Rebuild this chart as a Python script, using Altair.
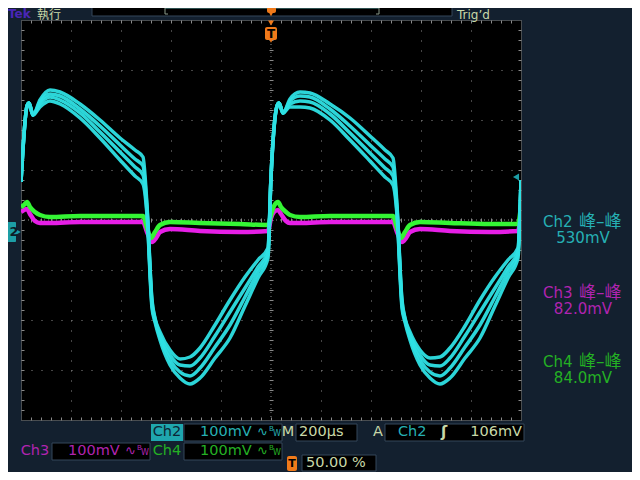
import altair as alt
import pandas as pd

# ---------------- data (time in µs from trigger, screen voltage in mV, 100 mV/div) -------------
T_CH2 = [-1000, -976, -968, -952, -924, -884, -844, -764, -684, -604, -544, -512, -496, -476, -464,
         -444, -404, -364, -324, -284, -224, -164, -104, -52, -12,
         0, 24, 32, 48, 76, 116, 156, 236, 316, 396, 456, 488, 504, 524, 536,
         556, 596, 636, 676, 716, 776, 836, 896, 948, 988, 1000]
CH2_A = [76, 228, 234, 210, 240, 260, 256, 232, 200, 164, 140, 126, 30, -160, -196,
         -224, -260, -278, -274, -256, -210, -160, -114, -80, -56,
         86, 228, 234, 214, 242, 256, 254, 232, 204, 168, 140, 124, 30, -160, -196,
         -224, -260, -276, -274, -256, -212, -160, -114, -80, -56, 80]
CH2_B = [76, 228, 234, 210, 236, 252, 248, 222, 188, 150, 122, 108, 24, -164, -198,
         -230, -270, -290, -292, -276, -232, -184, -136, -94, -62,
         86, 228, 234, 214, 238, 248, 246, 222, 188, 150, 122, 106, 24, -164, -198,
         -230, -270, -290, -292, -276, -232, -184, -136, -94, -62, 80]
CH2_C = [76, 228, 234, 210, 232, 246, 240, 214, 176, 136, 106, 90, 16, -170, -200,
         -234, -280, -304, -312, -296, -254, -210, -154, -104, -68,
         86, 228, 234, 214, 232, 238, 236, 212, 174, 134, 104, 88, 16, -170, -200,
         -234, -280, -304, -312, -296, -254, -210, -154, -104, -68, 80]
CH2_D = [76, 228, 234, 210, 226, 238, 232, 204, 164, 120, 88, 72, 10, -176, -204,
         -240, -290, -316, -328, -316, -276, -236, -172, -116, -76,
         86, 228, 234, 214, 226, 226, 224, 200, 160, 118, 86, 70, 10, -176, -204,
         -240, -290, -316, -328, -316, -276, -236, -172, -116, -76, 80]

T_CH4 = [-1000, -988, -976, -964, -944, -924, -884, -764, -604, -512, -496, -480, -464, -444, -404,
         -284, -124, -12, 0, 12, 28, 40, 60, 76, 116, 236, 396, 488, 504, 520, 536, 556, 596,
         716, 876, 988, 1000]
V_CH4 = [26, 30, 36, 26, 16, 10, 6, 8, 8, 8, -16, -36, -24, -10, -4,
         -6, -8, -10, 10, 28, 36, 26, 16, 10, 6, 8, 8, 8, -16, -36, -24, -10, -4,
         -6, -8, -8, 30]

T_CH3 = [-1000, -988, -976, -964, -944, -924, -884, -764, -604, -512, -496, -476, -460, -444, -404,
         -284, -124, -12, 0, 12, 28, 40, 60, 76, 116, 236, 396, 488, 504, 524, 540, 556, 596,
         716, 876, 988, 1000]
V_CH3 = [16, 20, 22, 12, -2, -6, -6, -4, -4, -4, -24, -44, -36, -24, -18,
         -22, -24, -22, 4, 16, 20, 12, -2, -6, -6, -4, -4, -4, -24, -44, -36, -24, -18,
         -22, -24, -22, 16]

CHANNELS = ["Ch2", "Ch3", "Ch4"]
PK_PK = ["530mV", "82.0mV", "84.0mV"]
VOLTS_DIV = ["100mV", "100mV", "100mV"]
TIMEBASE = "200µs"
TRIG_SRC = "Ch2"
TRIG_LEVEL = "106mV"
TRIG_POS = "50.00 %"
PKPK_WORD = "峰–峰"

for arr in (CH2_A, CH2_B, CH2_C, CH2_D):
    assert len(arr) == len(T_CH2)
assert len(V_CH4) == len(T_CH4) and len(V_CH3) == len(T_CH3)

rows = []
for name, vals in [("D", CH2_D), ("C", CH2_C), ("B", CH2_B), ("A", CH2_A)]:
    for t, v in zip(T_CH2, vals):
        rows.append({"t": t, "mV": v, "trace": name})
df2 = pd.DataFrame(rows)
df3 = pd.DataFrame({"t": T_CH3, "mV": V_CH3})
df4 = pd.DataFrame({"t": T_CH4, "mV": V_CH4})

# ---------------- styles -------------
FONT = "DejaVu Sans, Noto Sans CJK TC"
BG = "#13202f"
EDGE = "#34465a"
BEIGE = "#c8d8a8"
TEAL = "#26b0b4"
MAG = "#b024b0"
GRN = "#24b024"
ORANGE = "#f07a1a"
GRIDC = "#8a8a8a"
CYAN = "#2ee0e4"

XS = alt.Scale(domain=[-1000, 1000], nice=False, zero=False)
YS = alt.Scale(domain=[-400, 400], nice=False, zero=False)
MAJ_X = [-800, -600, -400, -200, 200, 400, 600, 800]
MAJ_Y = [-300, -200, -100, 100, 200, 300]
MIN_X = list(range(-960, 1000, 40))
MIN_Y = list(range(-380, 400, 20))


def grid_axis(orient, values):
    return alt.Axis(orient=orient, values=values, labels=False, domain=False, title=None,
                    ticks=False, grid=True, gridColor=GRIDC, gridDash=[1, 9], gridOpacity=1,
                    gridWidth=1)


def tick_axis(orient, values, offset, size):
    return alt.Axis(orient=orient, values=values, labels=False, domain=False, title=None,
                    grid=False, ticks=True, tickSize=size, tickColor=GRIDC, tickWidth=1,
                    offset=offset)


BLANK = alt.Data(values=[{}])


def rect(x0, x1, y0, y1, fill, stroke=None, radius=0):
    kw = {"fill": fill}
    if stroke:
        kw["stroke"] = stroke
        kw["strokeWidth"] = 1
    if radius:
        kw["cornerRadius"] = radius
    return alt.Chart(BLANK).mark_rect(**kw).encode(
        x=alt.value(x0), x2=alt.value(x1), y=alt.value(y0), y2=alt.value(y1))


def txt(x, y, s, color, size=14, align="left", bold=False, baseline="middle"):
    kw = dict(align=align, baseline=baseline, fontSize=size, color=color, font=FONT)
    if bold:
        kw["fontWeight"] = "bold"
    return alt.Chart(BLANK).mark_text(**kw).encode(
        x=alt.value(x), y=alt.value(y), text=alt.value(s))


def tri(x, y, shape, color, size):
    return alt.Chart(BLANK).mark_point(shape=shape, filled=True, color=color, size=size,
                                       opacity=1).encode(x=alt.value(x), y=alt.value(y))


def hline(x0, x1, y, color):
    return alt.Chart(BLANK).mark_rule(color=color, strokeWidth=1).encode(
        x=alt.value(x0), x2=alt.value(x1), y=alt.value(y))


def vline(x, y0, y1, color):
    return alt.Chart(BLANK).mark_rule(color=color, strokeWidth=1).encode(
        x=alt.value(x), y=alt.value(y0), y2=alt.value(y1))


def bw(x, y, color):
    return [txt(x, y, "∿", color, 13), txt(x + 12, y - 3, "B", color, 7),
            txt(x + 16, y + 2, "W", color, 8)]


# ---------------- traces & graticule -------------
ch3 = alt.Chart(df3).mark_line(color="#e61ee6", strokeWidth=4.5, clip=True,
                               interpolate="monotone").encode(
    x=alt.X("t:Q", scale=XS, axis=grid_axis("bottom", MAJ_X)),
    y=alt.Y("mV:Q", scale=YS, axis=grid_axis("left", MAJ_Y)))

ch4 = alt.Chart(df4).mark_line(color="#34f534", strokeWidth=4.5, clip=True,
                               interpolate="monotone").encode(
    x=alt.X("t:Q", scale=XS, axis=tick_axis("bottom", MIN_X, -3, 3)),
    y=alt.Y("mV:Q", scale=YS, axis=tick_axis("left", MIN_Y, -3, 3)))

ch2 = alt.Chart(df2).mark_line(color=CYAN, strokeWidth=3.5, clip=True, opacity=0.95,
                               interpolate="monotone").encode(
    x=alt.X("t:Q", scale=XS, axis=tick_axis("top", MIN_X, -3, 3)),
    y=alt.Y("mV:Q", scale=YS, axis=tick_axis("right", MIN_Y, -3, 3)),
    detail="trace:N")

center_v = alt.Chart(BLANK).mark_rule(color=GRIDC, strokeDash=[1, 3]).encode(
    x=alt.XDatum(0, type="quantitative", scale=XS,
                 axis=tick_axis("bottom", MIN_X, -202, 4)))
center_h = alt.Chart(BLANK).mark_rule(color=GRIDC, strokeDash=[1, 3]).encode(
    y=alt.YDatum(0, type="quantitative", scale=YS,
                 axis=tick_axis("left", MIN_Y, -252, 4)))

layers = [center_v, center_h, ch3, ch4, ch2]

# ---------------- top bar -------------
layers += [
    txt(-13, -2, "Tek", "#4a26b8", 12, bold=True, baseline="alphabetic"),
    txt(16, -1, "執行", BEIGE, 12, baseline="alphabetic"),
    rect(71, 431, -20, -4, "#000000", EDGE),
    hline(144, 358, -12, "#5aa0a0"),
    vline(144, -18, -6, "#8a9a8a"),
    hline(144, 147, -6, "#8a9a8a"),
    vline(358, -18, -6, "#8a9a8a"),
    hline(355, 358, -6, "#8a9a8a"),
    rect(246, 255, -18, -7, ORANGE, radius=2),
    tri(250, -6, "triangle-down", ORANGE, 25),
    txt(436, -1, "Trig’d", BEIGE, 12, baseline="alphabetic"),
]

# trigger-position marker at top of graticule
layers += [
    tri(250, 3, "triangle-down", ORANGE, 35),
    rect(244, 256, 7, 20, ORANGE, radius=2),
    tri(250, 20, "triangle-down", ORANGE, 40),
    txt(250, 14, "T", "#000000", 12, align="center", bold=True),
]

# ground marker for Ch2 and trigger level arrow
layers += [
    rect(-21, -5, 202, 222, "#1d9ea6", radius=1),
    tri(-5, 212, "triangle-right", "#1d9ea6", 120),
    txt(-7, 212, "2", "#0c1c28", 13, align="center", bold=True),
    tri(495, 157, "triangle-left", "#1d9ea6", 50),
]

# ---------------- right measurement panel -------------
panel_colors = [TEAL, MAG, GRN]
panel_y = [202, 273, 342]
for ch, pk, col, py in zip(CHANNELS, PK_PK, panel_colors, panel_y):
    layers += [
        txt(522, py, ch, col, 15),
        txt(558, py, PKPK_WORD, col, 17),
        txt(562, py + 16, pk, col, 15, align="center"),
    ]

# ---------------- bottom status bar -------------
# row 1
layers += [
    rect(130, 162, 404, 421, "#1fa6ae"),
    txt(146, 412, CHANNELS[0], "#0c2535", 14.5, align="center"),
    rect(163, 261, 404, 421, "#000000", EDGE),
    txt(179, 412, VOLTS_DIV[0], TEAL, 14.5),
    *bw(236, 412, TEAL),
    txt(267, 412, "M", BEIGE, 14.5, align="center"),
    rect(275, 336, 404, 421, "#000000", EDGE),
    txt(278, 412, TIMEBASE, BEIGE, 14.5),
    txt(357, 412, "A", BEIGE, 14.5, align="center"),
    rect(364, 503, 404, 421, "#000000", EDGE),
    txt(377, 412, TRIG_SRC, TEAL, 14.5),
    txt(423, 412, "ʃ", BEIGE, 15, align="center", bold=True),
    txt(501, 412, TRIG_LEVEL, BEIGE, 14.5, align="right"),
]
# row 2
layers += [
    txt(14, 431, CHANNELS[1], MAG, 14.5, align="center"),
    rect(31, 129, 423, 440, "#000000", EDGE),
    txt(47, 431, VOLTS_DIV[1], MAG, 14.5),
    *bw(104, 431, MAG),
    txt(146, 431, CHANNELS[2], GRN, 14.5, align="center"),
    rect(163, 261, 423, 440, "#000000", EDGE),
    txt(179, 431, VOLTS_DIV[2], GRN, 14.5),
    *bw(236, 431, GRN),
]
# row 3 (lifted slightly so it stays inside the drawing)
layers += [
    rect(266, 276, 436, 451, ORANGE, radius=2),
    txt(271, 444, "T", "#000000", 11, align="center", bold=True),
    rect(281, 355, 435, 451, "#000000", EDGE),
    txt(285, 443, TRIG_POS, BEIGE, 14.5),
]

chart = alt.layer(*layers).resolve_axis(x="independent", y="independent").properties(
    width=500, height=400,
    autosize=alt.AutoSizeParams(type="none"),
    padding={"left": 13, "top": 12, "right": 111, "bottom": 52},
    background=BG,
).configure_view(fill="#000000", stroke=GRIDC, strokeDash=[1, 1], strokeWidth=1)

chart.save("out.html", embed_options={"renderer": "svg", "actions": False})
